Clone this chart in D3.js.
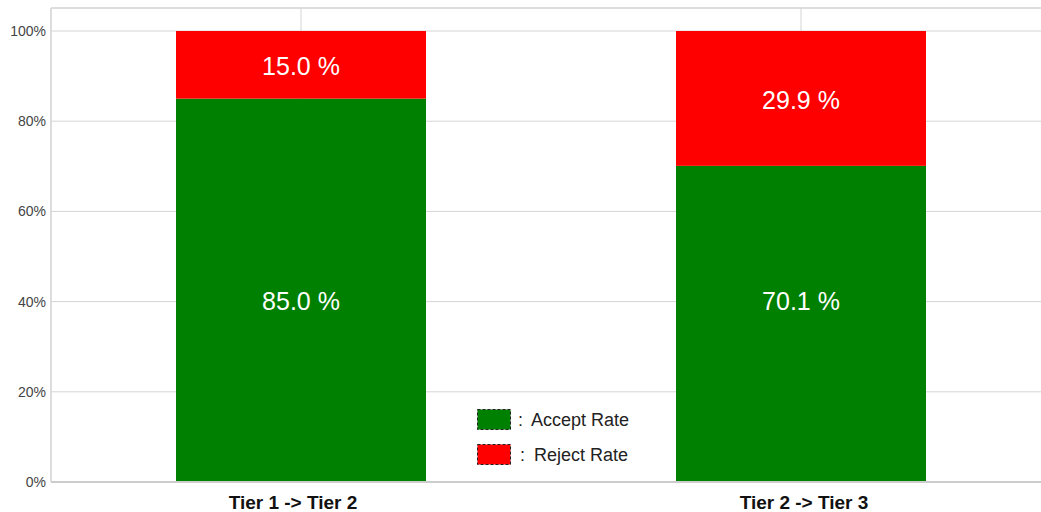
<!DOCTYPE html>
<html>
<head>
<meta charset="utf-8">
<script src="https://cdn.jsdelivr.net/npm/d3@7"></script>
<style>
  body { margin: 0; background: #fff; }
  svg { display: block; font-family: "Liberation Sans", Arial, sans-serif; }
</style>
</head>
<body>
<svg id="chart" width="1041" height="512"></svg>
<script>
let categories = ["Tier 1 -> Tier 2", "Tier 2 -> Tier 3"];
let acceptRate = [85.0, 70.1];
let rejectRate = [15.0, 29.9];
let yTicks = [0, 20, 40, 60, 80, 100];
let legendItems = [
  {name: "Accept Rate", color: "#008000"},
  {name: "Reject Rate", color: "#ff0000"}
];

let svg = d3.select("#chart"),
    plotLeft = 51, frameTop = 8,
    plotTop = 31, plotBottom = 482;

let x = d3.scaleBand().domain(categories).range([plotLeft, plotLeft + 1000]).paddingInner(0).paddingOuter(0),
    y = d3.scaleLinear().domain([0, 100]).range([plotBottom, plotTop]);

let bw = 250;

// frame
svg.append("line").attr("x1", plotLeft).attr("x2", 1041).attr("y1", frameTop).attr("y2", frameTop)
  .attr("stroke", "#ddd").attr("stroke-width", 2);
svg.append("line").attr("x1", plotLeft).attr("x2", plotLeft).attr("y1", frameTop).attr("y2", plotBottom)
  .attr("stroke", "#ddd").attr("stroke-width", 2);

// gridlines
svg.append("g").selectAll("line").data(yTicks.filter(d => d > 0)).enter().append("line")
  .attr("x1", plotLeft).attr("x2", 1041)
  .attr("y1", d => y(d)).attr("y2", d => y(d))
  .attr("stroke", "#d4d4d4").attr("stroke-width", 1);

svg.append("g").selectAll("line").data(categories).enter().append("line")
  .attr("x1", d => x(d) + x.bandwidth() / 2).attr("x2", d => x(d) + x.bandwidth() / 2)
  .attr("y1", frameTop).attr("y2", plotBottom)
  .attr("stroke", "#d4d4d4").attr("stroke-width", 1);

// y labels
svg.append("g").selectAll("text").data(yTicks).enter().append("text")
  .attr("x", 46).attr("y", d => y(d)).attr("dy", "0.35em")
  .attr("text-anchor", "end").attr("fill", "#444").style("font-size", "14px")
  .text(d => d + "%");

// bars
let rows = categories.map((c, i) => ({cat: c, acc: acceptRate[i], rej: rejectRate[i]}));
let bars = svg.append("g").selectAll("g").data(rows).enter().append("g");

bars.append("rect")
  .attr("x", d => x(d.cat) + (x.bandwidth() - bw) / 2).attr("width", bw)
  .attr("y", d => y(d.acc)).attr("height", d => y(0) - y(d.acc))
  .attr("fill", "#008000");

bars.append("rect")
  .attr("x", d => x(d.cat) + (x.bandwidth() - bw) / 2).attr("width", bw)
  .attr("y", d => y(d.acc + d.rej)).attr("height", d => y(d.acc) - y(d.acc + d.rej))
  .attr("fill", "#ff0000");

bars.append("text")
  .attr("x", d => x(d.cat) + x.bandwidth() / 2).attr("y", d => y(40))
  .attr("dy", "0.35em").attr("text-anchor", "middle").attr("fill", "#fff")
  .style("font-size", "25px").text(d => d.acc.toFixed(1) + " %");

bars.append("text")
  .attr("x", d => x(d.cat) + x.bandwidth() / 2).attr("y", d => y(d.acc + d.rej / 2) + 1.5)
  .attr("dy", "0.35em").attr("text-anchor", "middle").attr("fill", "#fff")
  .style("font-size", "25px").text(d => d.rej.toFixed(1) + " %");

// axis line
svg.append("line").attr("x1", plotLeft).attr("x2", 1041).attr("y1", plotBottom).attr("y2", plotBottom)
  .attr("stroke", "#ccc").attr("stroke-width", 2);

// x labels
svg.append("g").selectAll("text").data(categories).enter().append("text")
  .attr("x", (d, i) => x(d) + x.bandwidth() / 2 + (i === 0 ? -8 : 3)).attr("y", 502).attr("dy", "0.35em")
  .attr("text-anchor", "middle").attr("fill", "#111")
  .style("font-size", "19px").style("font-weight", "bold")
  .text(d => d);

// legend
let legend = svg.append("g").attr("transform", "translate(477,409)")
  .selectAll("g").data(legendItems).enter().append("g")
  .attr("transform", (d, i) => "translate(0," + i * 35 + ")");

legend.append("rect").attr("x", 0.5).attr("y", 0.5).attr("width", 33).attr("height", 20)
  .attr("fill", d => d.color).attr("stroke", "#222").attr("stroke-dasharray", "3,2");

legend.append("text").attr("x", (d, i) => 41 + i * 2).attr("y", 10.5).attr("dy", "0.35em")
  .attr("fill", "#222").style("font-size", "18px")
  .text(":");

legend.append("text").attr("x", (d, i) => 54 + i * 3).attr("y", 10.5).attr("dy", "0.35em")
  .attr("fill", "#222").style("font-size", "18px")
  .text(d => d.name);
</script>
</body>
</html>
